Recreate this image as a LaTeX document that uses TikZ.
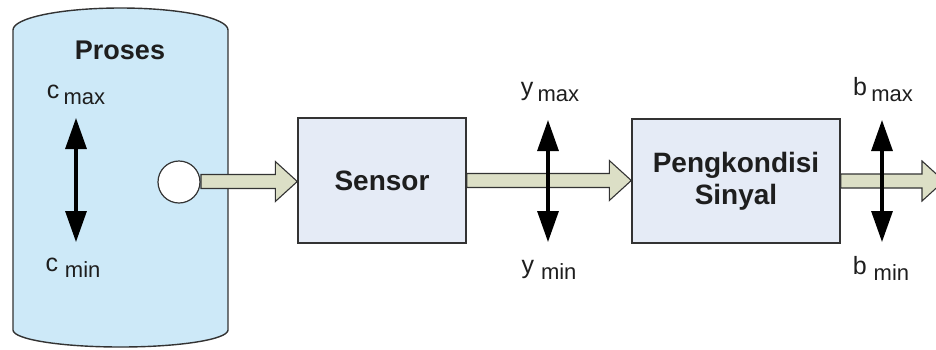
\documentclass[tikz,border=0pt]{standalone}
\usepackage{fontspec}
\setmainfont{Liberation Sans}
\usetikzlibrary{calc,arrows.meta}
\definecolor{cylfill}{HTML}{CDE9F8}
\definecolor{boxfill}{HTML}{E5EBF6}
\definecolor{arrfill}{HTML}{DCDFC6}
\definecolor{edge}{HTML}{333333}
\definecolor{txt}{HTML}{1E1E1E}
\tikzset{
  blockbox/.style={draw=edge,line width=1.4pt,fill=boxfill,align=center,
    font=\bfseries\fontsize{28}{31}\selectfont,text=txt,inner sep=0pt},
  fatarrow/.style={draw=edge,line width=1.1pt,fill=arrfill,line join=miter},
  rangearrow/.style={line width=3.2pt,black,
    {Triangle[width=21pt,length=31pt]}-{Triangle[width=21pt,length=31pt]}},
  lbl/.style={font=\fontsize{25}{26}\selectfont,text=txt,inner sep=0pt},
  ttl/.style={font=\bfseries\fontsize{27}{30}\selectfont,text=txt,inner sep=0pt}
}
\newcommand\subtxt[1]{\raisebox{-0.45ex}{\fontsize{22}{23}\selectfont #1}}
\newcommand\fatarr[2]{%
  \draw[fatarrow] let \p1=(#1), \p2=(#2) in
    (\x1,\y1+7pt) -- (\x2-22pt,\y1+7pt) -- (\x2-22pt,\y1+20pt) -- (\x2,\y1)
    -- (\x2-22pt,\y1-20pt) -- (\x2-22pt,\y1-7pt) -- (\x1,\y1-7pt) -- cycle;}
\begin{document}
\begin{tikzpicture}[x=1pt,y=-1pt]
\useasboundingbox (0,0) rectangle (936,349);
\clip (0,0) rectangle (936,349);
% process vessel
\draw[draw=edge,line width=1.4pt,fill=cylfill]
  (13,30) -- (13,330) arc[start angle=180,end angle=360,x radius=107.5pt,y radius=17pt]
  -- (228,30) arc[start angle=0,end angle=180,x radius=107.5pt,y radius=22pt] -- cycle;
\node[ttl] (proses) at (120,50) {Proses};
\node[lbl] (cmax) at (76,95) {c\,\subtxt{max}};
\node[lbl] (cmin) at (73,268) {c \subtxt{min}};
\coordinate (ctop) at (76,118);
\coordinate (cbot) at (76,242);
\draw[rangearrow] (ctop) -- (cbot);
% blocks
\node[blockbox,minimum width=168pt,minimum height=125pt] (sensor) at (382,180.5) {Sensor};
\node[blockbox,minimum width=208pt,minimum height=124pt] (sc) at (736,181) {Pengkondisi\\[1pt]Sinyal};
\coordinate (outend) at (944,181);
% flow arrows
\fatarr{201,181.5}{sensor.west}
\node[draw=edge,line width=1.2pt,fill=white,circle,minimum size=42pt,inner sep=0pt] (port) at (179,182) {};
\fatarr{sensor.east}{sc.west}
\fatarr{sc.east}{outend}
% y range
\node[lbl] (ymax) at (550,92) {y\,\subtxt{max}};
\node[lbl] (ymin) at (549,270) {y \subtxt{min}};
\coordinate (ytop) at (548,120);
\coordinate (ybot) at (548,242);
\draw[rangearrow] (ytop) -- (ybot);
% b range
\node[lbl] (bmax) at (883,90) {b\,\subtxt{max}};
\node[lbl] (bmin) at (881,268) {b \subtxt{min}};
\coordinate (btop) at (882,120);
\coordinate (bbot) at (882,242);
\draw[rangearrow] (btop) -- (bbot);
\end{tikzpicture}
\end{document}
